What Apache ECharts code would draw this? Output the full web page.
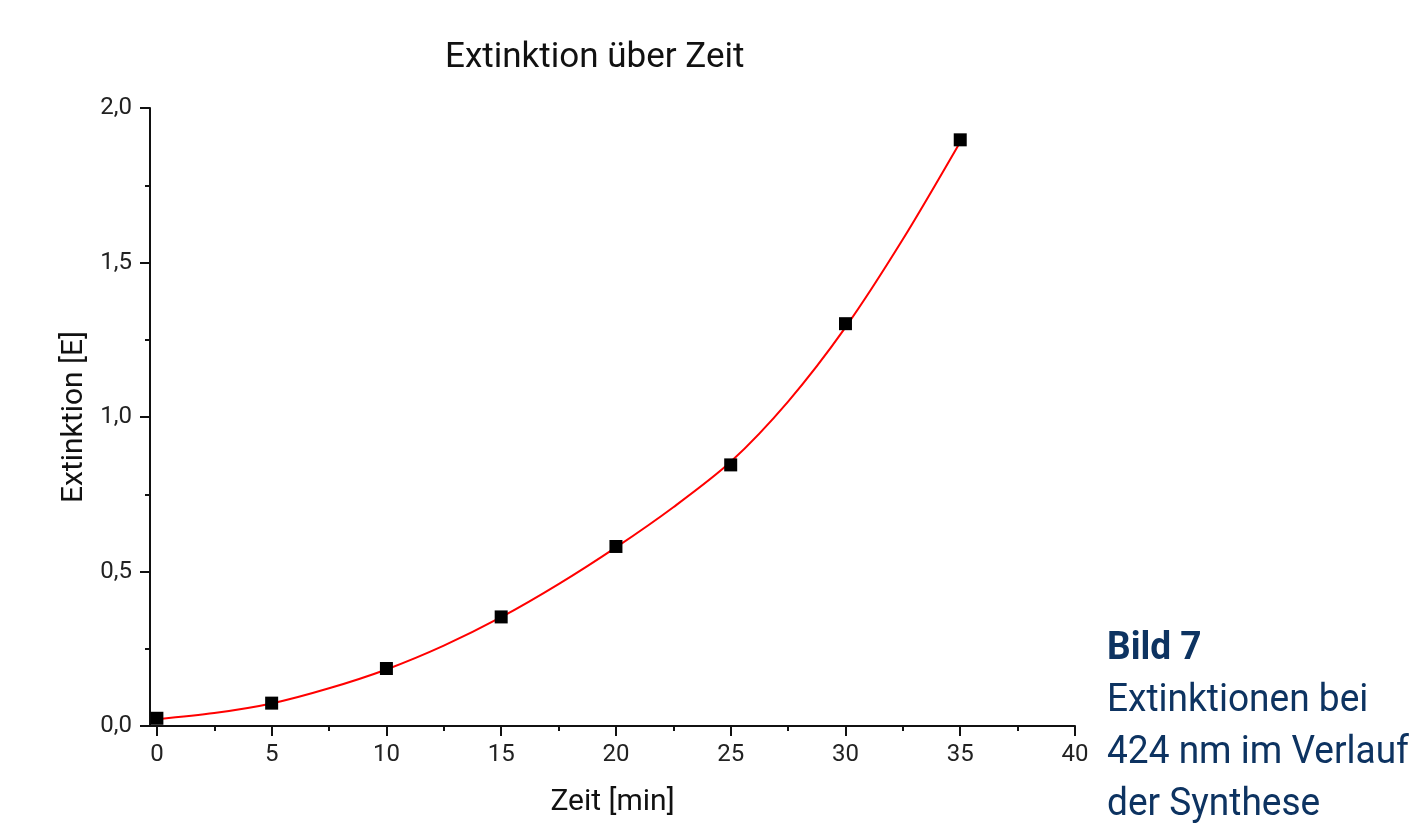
<!DOCTYPE html>
<html>
<head>
<meta charset="utf-8">
<script src="https://cdn.jsdelivr.net/npm/echarts@6/dist/echarts.min.js"></script>
<style>
html,body{margin:0;padding:0;background:#fff;}
#chart{width:1416px;height:824px;}
</style>
</head>
<body>
<div id="chart"></div>
<script>
// Data
const times = [0, 5, 10, 15, 20, 25, 30, 35];
const extinction = [0.025, 0.074, 0.186, 0.353, 0.581, 0.845, 1.302, 1.897];
// Fitted curve (red line), every 2.5 min
const fitTimes = [0, 2.5, 5, 7.5, 10, 12.5, 15, 17.5, 20, 22.5, 25, 27.5, 30, 32.5, 35];
const fitValues = [0.022, 0.042, 0.073, 0.122, 0.183, 0.260, 0.352, 0.459, 0.578, 0.708, 0.855, 1.050, 1.290, 1.575, 1.890];
const xMajorTicks = [0, 5, 10, 15, 20, 25, 30, 35, 40];
const xMinorTicks = [2.5, 7.5, 12.5, 17.5, 22.5, 27.5, 32.5, 37.5];
const titleText = 'Extinktion über Zeit';
const xName = 'Zeit [min]';
const yName = 'Extinktion [E]';
const captionHead = 'Bild 7';
const captionLines = ['Extinktionen bei', '424 nm im Verlauf', 'der Synthese'];

const chart = echarts.init(document.getElementById('chart'));
const fmt = v => v.toFixed(1).replace('.', ',');
const font = 'Roboto';
const navy = '#0d3361';

chart.setOption({
  backgroundColor: '#fff',
  animation: false,
  title: {
    text: titleText,
    left: 440, top: 36,
    textStyle: {fontFamily: font, fontSize: 35, fontWeight: 'normal', color: '#111'}
  },
  grid: {left: 150, right: 341, top: 108, bottom: 98},
  xAxis: [{
    type: 'value', min: -0.3, max: 40,
    name: xName, nameLocation: 'middle', nameGap: 61,
    nameTextStyle: {fontFamily: font, fontSize: 30, color: '#111'},
    axisLine: {show: true, onZero: false, lineStyle: {color: '#111', width: 2}},
    axisTick: {show: true, inside: false, length: 10, lineStyle: {color: '#111', width: 2}, customValues: xMajorTicks},
    axisLabel: {show: true, margin: 17, fontFamily: font, fontSize: 24, color: '#222', customValues: xMajorTicks},
    splitLine: {show: false}
  }, {
    type: 'value', min: -0.3, max: 40, position: 'bottom',
    axisLine: {show: false, onZero: false},
    axisTick: {show: true, length: 5, lineStyle: {color: '#111', width: 2}, customValues: xMinorTicks},
    axisLabel: {show: false},
    splitLine: {show: false}
  }],
  yAxis: {
    type: 'value', min: 0, max: 2, interval: 0.5,
    name: yName, nameLocation: 'middle', nameGap: 58, nameRotate: 90,
    nameTextStyle: {fontFamily: font, fontSize: 30, color: '#111'},
    axisLine: {show: true, onZero: false, lineStyle: {color: '#111', width: 2}},
    axisTick: {show: true, length: 10, lineStyle: {color: '#111', width: 2}},
    minorTick: {show: true, splitNumber: 2, length: 5, lineStyle: {color: '#111', width: 2}},
    axisLabel: {margin: 18, fontFamily: font, fontSize: 24, color: '#222', formatter: fmt},
    splitLine: {show: false}
  },
  series: [{
    type: 'line', name: 'fit',
    data: fitTimes.map((t, i) => [t, fitValues[i]]),
    smooth: 0.3, showSymbol: false, symbol: 'none',
    lineStyle: {color: '#ff0000', width: 2},
    z: 2
  }, {
    type: 'scatter', name: 'Messwerte',
    data: times.map((t, i) => [t, extinction[i]]),
    symbol: 'rect', symbolSize: 13,
    itemStyle: {color: '#000', opacity: 1},
    z: 3
  }],
  graphic: [{
    type: 'text', left: 1107, top: 630, scaleX: 0.95,
    style: {text: captionHead, fontFamily: font, fontSize: 39, fontWeight: 'bold', fill: navy}
  }, {
    type: 'text', left: 1107, top: 675, scaleX: 0.95,
    style: {text: captionLines.join('\n'), fontFamily: font, fontSize: 39, lineHeight: 52, fill: navy}
  }]
});
</script>
</body>
</html>
